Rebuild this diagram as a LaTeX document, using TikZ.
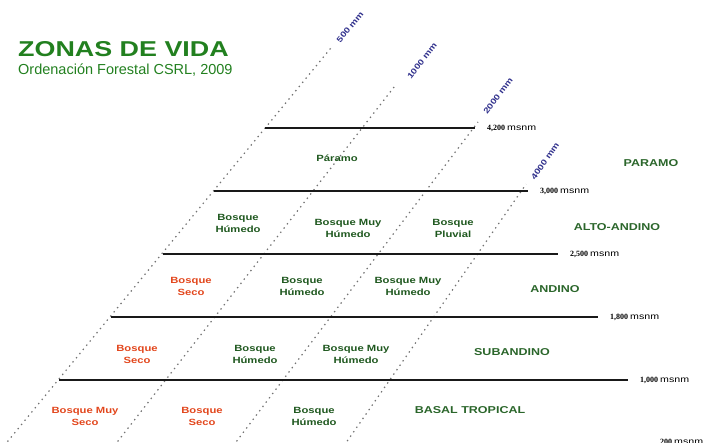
\documentclass[tikz,border=0pt]{standalone}
\usepackage{fontspec}
\setmainfont{Liberation Sans}
\newfontfamily\widefont[FakeStretch=1.25]{Liberation Sans}
\newfontfamily\altfont{Liberation Serif}
\definecolor{titlegreen}{HTML}{22801F}
\definecolor{zonegreen}{HTML}{2B662B}
\definecolor{cellgreen}{HTML}{1F581F}
\definecolor{dryred}{HTML}{E2461C}
\definecolor{rainblue}{HTML}{30308C}

\begin{document}
\begin{tikzpicture}[
            x = 1pt, y = -1pt,
            every node/.style={text depth=0pt, inner sep=0pt, align=center},
            line/.style={line width = 2.6pt, black!90},
            dots/.style={line width = 1.2pt, black!55, dash pattern=on 1.4pt off 4pt, shorten >=5pt},
            cell/.style={font=\widefont\fontsize{9}{12}\selectfont\bfseries, text=cellgreen},
            dry/.style={cell, text=dryred},
            zone/.style={font=\widefont\fontsize{10}{12}\selectfont\bfseries, text=zonegreen},
            rain/.style={font=\widefont\fontsize{8}{8}\selectfont\bfseries, text=rainblue},
            alt/.style={anchor=west, font=\altfont\fontsize{8}{8}\selectfont},
            ]
        \useasboundingbox (0,0) rectangle (709,442);

        \node[anchor=base west, font=\widefont\fontsize{21.5}{21.5}\selectfont\bfseries, text=titlegreen] (title) at (18,56) {ZONAS DE VIDA};
        \node[anchor=base west, font=\fontsize{14.5}{14.5}\selectfont, text=titlegreen] (subtitle) at (18,74) {Ordenación Forestal CSRL, 2009};

        \coordinate (r1b) at (0.6,450);  \coordinate (r1t) at (335,43);
        \coordinate (r2b) at (111,450);  \coordinate (r2t) at (398,82);
        \coordinate (r3b) at (230,450);  \coordinate (r3t) at (481,118);
        \coordinate (r4b) at (341,450);  \coordinate (r4t) at (529,180);
        \foreach \r in {1,...,4}
            \draw[dots] (r\r b) -- (r\r t);

        \node[rain, rotate=51] (mm500) at (350,27) {500 mm};
        \node[rain, rotate=52] (mm1000) at (422,61) {1000 mm};
        \node[rain, rotate=53] (mm2000) at (498,96) {2000 mm};
        \node[rain, rotate=55] (mm4000) at (545,161) {4000 mm};

        \foreach \y/\xl/\xr/\h in {128/265/475/{4,200}, 191/214/528/{3,000}, 254/163/558/{2,500}, 317/111/598/{1,800}, 380/59/628/{1,000}} {
            \draw[line] (\xl,\y) coordinate (h\y l) -- (\xr,\y) coordinate (h\y r);
            \node[alt] (a\y) at ([xshift=12pt]h\y r) {\textbf{\h} {\widefont\fontsize{8.5}{8.5}\selectfont msnm}};
        }
        \node[alt] (a442) at (660,442) {\textbf{200} {\widefont\fontsize{8.5}{8.5}\selectfont msnm}};

        \node[zone] (paramo) at (651,163) {PARAMO};
        \node[zone] (altoandino) at (617,227) {ALTO-ANDINO};
        \node[zone] (andino) at (555,289) {ANDINO};
        \node[zone] (subandino) at (512,352) {SUBANDINO};
        \node[zone] (basal) at (470,410) {BASAL TROPICAL};

        \node[cell] (c41) at (337,158) {Páramo};

        \node[cell] (c31) at (238,223) {Bosque\\Húmedo};
        \node[cell] (c32) at (348,228) {Bosque Muy\\Húmedo};
        \node[cell] (c33) at (453,228) {Bosque\\Pluvial};

        \node[dry] (c21) at (191,286) {Bosque\\Seco};
        \node[cell] (c22) at (302,286) {Bosque\\Húmedo};
        \node[cell] (c23) at (408,286) {Bosque Muy\\Húmedo};

        \node[dry] (c11) at (137,354) {Bosque\\Seco};
        \node[cell] (c12) at (255,354) {Bosque\\Húmedo};
        \node[cell] (c13) at (356,354) {Bosque Muy\\Húmedo};

        \node[dry] (c01) at (85,416) {Bosque Muy\\Seco};
        \node[dry] (c02) at (202,416) {Bosque\\Seco};
        \node[cell] (c03) at (314,416) {Bosque\\Húmedo};

    \end{tikzpicture}
\end{document}
